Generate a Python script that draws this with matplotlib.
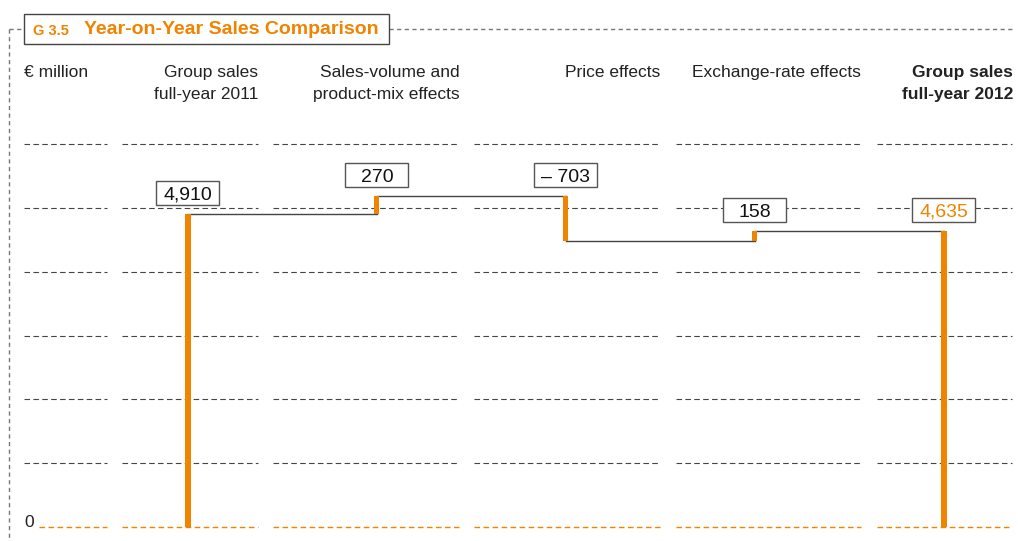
import matplotlib.pyplot as plt
from matplotlib.patches import Rectangle

plt.rcParams['font.family'] = ['Liberation Sans', 'DejaVu Sans']

# data
categories = ["Group sales\nfull-year 2011", "Sales-volume and\nproduct-mix effects",
              "Price effects", "Exchange-rate effects", "Group sales\nfull-year 2012"]
values = [4910, 270, -703, 158, 4635]
is_total = [True, False, False, False, True]
value_labels = ["4,910", "270", "\u2013 703", "158", "4,635"]
grid_values = [0, 1000, 2000, 3000, 4000, 5000, 6000]

ORANGE = '#F08300'
GRID = '#444444'

fig = plt.figure(figsize=(10.18, 5.41), dpi=100)

# decoration layer in pixel units
deco = fig.add_axes([0, 0, 1, 1])
deco.set_xlim(0, 1018)
deco.set_ylim(541, 0)
deco.axis('off')

# chart layer: x in pixels, y in EUR million
ax = fig.add_axes([0, 0, 1, 1], facecolor='none')
px_per_unit = 0.06383
zero_px = 527
ax.set_xlim(0, 1018)
ax.set_ylim(-(541 - zero_px) / px_per_unit, zero_px / px_per_unit)
ax.axis('off')

# dashed outer frame
frame_ls = (0, (3, 2.5))
deco.plot([9, 9], [29, 541], color='#777777', lw=1, ls=frame_ls)
deco.plot([9, 24], [29, 29], color='#777777', lw=1, ls=frame_ls)
deco.plot([389, 1012], [29, 29], color='#777777', lw=1, ls=frame_ls)

# title box
deco.add_patch(Rectangle((24, 14), 365, 30, facecolor='white', edgecolor='#444444', lw=1, zorder=3))
deco.text(33, 31, "G 3.5", color=ORANGE, fontsize=10.5, fontweight='bold', va='center', zorder=4)
deco.text(84, 30, "Year-on-Year Sales Comparison", color=ORANGE, fontsize=14,
          fontweight='bold', va='center', zorder=4)

# column headers
deco.text(24, 65, "\u20ac million", fontsize=12.5, va='top', ha='left', color='#222222')
header_right = [258, 460, 660, 861, 1013]
for i, (cat, xr) in enumerate(zip(categories, header_right)):
    deco.text(xr, 65, cat, fontsize=12.5, va='top', ha='right', multialignment='right',
              color='#222222', linespacing=1.55,
              fontweight='bold' if i == 4 else 'normal')

# dashed grid segments per column
col_spans = [(24, 107), (122, 258), (273, 459), (474, 660), (676, 861), (877, 1012)]
for gv in grid_values:
    for j, (l, r) in enumerate(col_spans):
        if gv == 0 and j == 0:
            l = 39
        ax.plot([l, r], [gv, gv], color=ORANGE if gv == 0 else GRID,
                lw=1.0 if gv == 0 else 0.8, ls=(0, (5, 3)) if gv else (0, (4, 2.5)), zorder=1)
ax.text(24, 0, "0", fontsize=12.5, va='baseline', ha='left', color='#222222')

# waterfall
x0, step = 188, 189
xs = [x0 + step * i for i in range(len(values))]
running = 0
bottoms, tops = [], []
for v, tot in zip(values, is_total):
    if tot:
        b, t = 0, v
        running = v
    else:
        b, t = running, running + v
        running += v
    bottoms.append(b)
    tops.append(t)

for x, b, t, tot in zip(xs, bottoms, tops, is_total):
    ax.bar(x, t - b, bottom=b, width=5.5 if tot else 5, color=ORANGE, zorder=3)

# connectors
for i in range(len(values) - 1):
    level = tops[i]
    ax.plot([xs[i], xs[i + 1]], [level, level], color='#444444', lw=1, zorder=2)

# value boxes
box_w, box_h = 63, 24 / px_per_unit
gap = 9 / px_per_unit
for i, (x, lab) in enumerate(zip(xs, value_labels)):
    top = max(bottoms[i], tops[i])
    yb = top + gap
    ax.add_patch(Rectangle((x - box_w / 2, yb), box_w, box_h, facecolor='white',
                           edgecolor='#555555', lw=1, zorder=4))
    ax.text(x, yb + box_h / 2, lab, ha='center', va='center_baseline', fontsize=14,
            color=ORANGE if i == 4 else '#111111', zorder=5)

fig.savefig('out.png', dpi=100)
